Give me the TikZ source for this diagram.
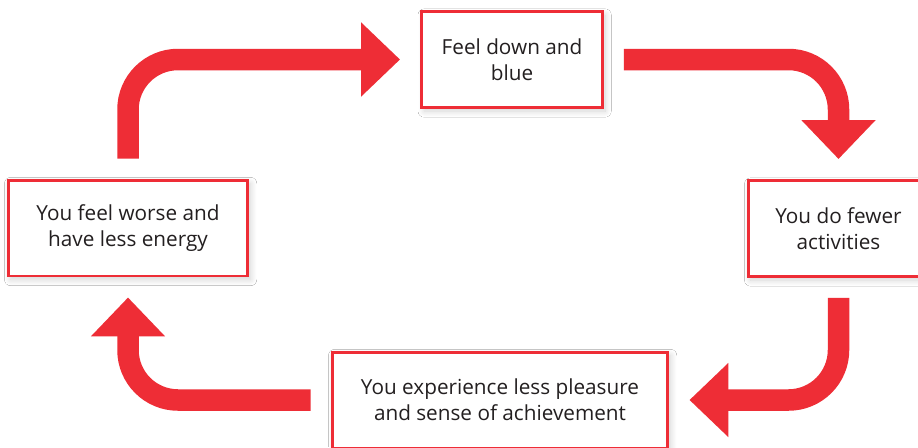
\documentclass[tikz,border=0pt]{standalone}
\usepackage{fontspec}
\setmainfont{Open Sans}
\usetikzlibrary{arrows.meta}
\usetikzlibrary{shadows.blur}
\definecolor{loopred}{RGB}{238,45,54}
\definecolor{textgrey}{RGB}{35,31,32}

\tikzset{
  stage/.style={draw=loopred, line width=0.06cm, fill=white, align=center,
    text=textgrey, font=\fontsize{11.8}{14.8}\selectfont, minimum height=1.92cm,
    blur shadow={shadow xshift=1.5pt, shadow yshift=-2pt, shadow blur radius=3.5pt, shadow blur steps=10, shadow opacity=18}},
  cyclearrow/.style={draw=loopred, line width=0.43cm, rounded corners=1cm,
    -{Triangle[length=0.78cm,width=1.44cm]}, shorten <=0.4cm, shorten >=0.4cm}
}

\begin{document}
\begin{tikzpicture}[x=0.02cm, y=-0.02cm]
            \clip (0,0) rectangle (918,447);
            \fill[white] (0,0) rectangle (918,447);

            \node[stage, minimum width=3.62cm] (feel) at (512,59.5) {Feel down and\\blue};
            \node[stage, minimum width=3.62cm] (fewer) at (838.5,228.5) {You do fewer\\activities};
            \node[stage, minimum width=6.72cm] (pleasure) at (500,400) {You experience less pleasure\\and sense of achievement};
            \node[stage, minimum width=4.8cm] (worse) at (128,228) {You feel worse and\\have less energy};

            \draw[cyclearrow] (worse.north) |- (feel.west);
            \draw[cyclearrow] (feel.east) -| (fewer.north);
            \draw[cyclearrow] (fewer.south) |- (pleasure.east);
            \draw[cyclearrow] (pleasure.west) -| (worse.south);
        \end{tikzpicture}
\end{document}
